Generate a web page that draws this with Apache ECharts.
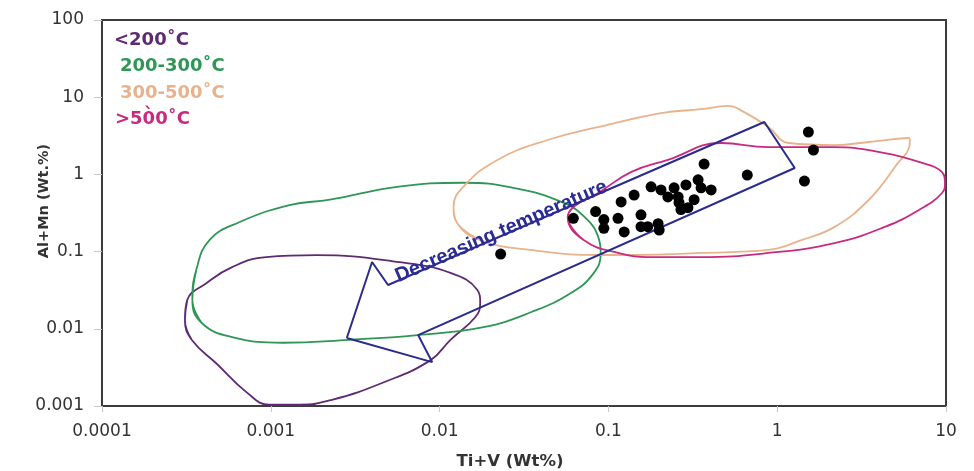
<!DOCTYPE html>
<html>
<head>
<meta charset="utf-8">
<script src="https://cdn.jsdelivr.net/npm/echarts@6/dist/echarts.min.js"></script>
<style>
  html, body { margin: 0; padding: 0; background: #fff; }
  #chart { width: 974px; height: 471px; }
</style>
</head>
<body>
<div id="chart"></div>
<script>
// tick labels
const xTickLabels = ['0.0001', '0.001', '0.01', '0.1', '1', '10'];
const yTickLabels = ['0.001', '0.01', '0.1', '1', '10', '100'];

// temperature fields (closed outlines), [Ti+V, Al+Mn]
const fieldLow = [[0.00031,0.013],[0.00032,0.0236],[0.000415,0.039],[0.00059,0.063],[0.00094,0.085],[0.00187,0.090],[0.0058,0.073],[0.0116,0.053],[0.0167,0.032],[0.0174,0.0216],[0.0163,0.0142],[0.0116,0.0072],[0.0088,0.0039],[0.0046,0.0020],[0.0023,0.0012],[0.00148,0.00104],[0.00098,0.00104],[0.00072,0.0015],[0.00048,0.0035],[0.00034,0.0072],[0.00031,0.013]];
const field200 = [[0.000343,0.0236],[0.000362,0.058],[0.000433,0.141],[0.00065,0.24],[0.00129,0.40],[0.00224,0.47],[0.0056,0.69],[0.0138,0.78],[0.0274,0.67],[0.054,0.43],[0.075,0.26],[0.087,0.155],[0.090,0.096],[0.082,0.053],[0.060,0.029],[0.035,0.0165],[0.0182,0.0105],[0.0074,0.0083],[0.0029,0.0072],[0.00118,0.0066],[0.00059,0.0078],[0.00039,0.0119],[0.000343,0.0236]];
const field300 = [[0.0127,0.234],[0.0121,0.38],[0.0138,0.69],[0.022,1.54],[0.0436,2.79],[0.0865,4.1],[0.205,6.2],[0.354,7.0],[0.513,7.7],[0.638,6.4],[0.886,4.1],[1.17,2.55],[2.19,2.4],[3.48,2.63],[6.03,2.96],[6.11,2.63],[4.98,1.25],[3.48,0.466],[2.19,0.209],[1.39,0.141],[0.886,0.105],[0.354,0.096],[0.142,0.0904],[0.0901,0.0904],[0.0346,0.105],[0.0174,0.141],[0.0127,0.234]];
const field500 = [[0.0574,0.281],[0.0622,0.38],[0.0865,0.57],[0.136,1.07],[0.225,1.54],[0.466,2.55],[0.886,2.26],[2.19,2.26],[4.34,1.89],[6.91,1.45],[9.47,1.07],[9.86,0.775],[9.47,0.574],[6.91,0.346],[4.34,0.209],[2.19,0.129],[0.886,0.096],[0.354,0.085],[0.179,0.085],[0.114,0.096],[0.0714,0.141],[0.0574,0.281]];

// arrow outline
const arrow = [[0.00282,0.0076],[0.00398,0.0733],[0.00495,0.0369],[0.839,4.77],[1.27,1.21],[0.00746,0.0083],[0.00904,0.0037],[0.00282,0.0076]];
const arrowLabel = [[0.0232,0.182]];

// samples
const samples = [[0.023,0.093],[0.062,0.27],[0.084,0.33],[0.094,0.26],[0.114,0.27],[0.094,0.20],[0.124,0.18],[0.119,0.44],[0.142,0.54],[0.156,0.30],[0.156,0.21],[0.171,0.21],[0.197,0.23],[0.200,0.19],[0.179,0.69],[0.205,0.63],[0.225,0.51],[0.245,0.67],[0.259,0.51],[0.288,0.73],[0.262,0.43],[0.340,0.85],[0.354,0.67],[0.406,0.63],[0.322,0.47],[0.296,0.37],[0.269,0.35],[0.369,1.36],[0.665,0.98],[1.53,3.54],[1.64,2.07],[1.45,0.82]];

const fieldNames = ['<200˚C', '200-300˚C', '300-500˚C', '>50̀0˚C'];
const fieldColors = ['#5e2a72', '#2f9656', '#e8b38c', '#c72a80'];

const chart = echarts.init(document.getElementById('chart'));

function labelFor(list) {
  return function (v) {
    const i = Math.round(Math.log10(v)) - Math.round(Math.log10(parseFloat(list[0])));
    return list[i] !== undefined ? list[i] : '';
  };
}

// wrap a closed loop by one point on each side so the smoothing has no corner at the seam
function wrapLoop(loop) {
  return [loop[loop.length - 2]].concat(loop, [loop[1]]);
}

function fieldSeries(name, data, color) {
  return {
    name: name,
    type: 'line',
    data: wrapLoop(data),
    smooth: 0.45,
    showSymbol: false,
    silent: true,
    lineStyle: { color: color, width: 1.8 },
    z: 2
  };
}

// legend texts, top-left inside the plot
const legendTexts = fieldNames.map(function (n, i) {
  const pos = [[114, 42], [120, 68], [120, 95], [115, 121]][i];
  return {
    type: 'text',
    left: pos[0],
    top: pos[1] - 11,
    style: {
      text: n,
      fill: fieldColors[i],
      font: 'bold 18px "DejaVu Sans", sans-serif'
    }
  };
});

chart.setOption({
  animation: false,
  grid: {
    left: 102, right: 28, top: 20, bottom: 65,
    outerBoundsMode: 'none',
    show: true, borderColor: '#3c3c3c', borderWidth: 2
  },
  xAxis: {
    type: 'log',
    logBase: 10,
    min: 0.0001,
    max: 10,
    name: 'Ti+V (Wt%)',
    nameLocation: 'middle',
    nameGap: 47,
    nameMoveOverlap: false,
    nameTextStyle: { fontSize: 16.5, fontWeight: 'bold', color: '#333', fontFamily: '"DejaVu Sans"', padding: [0, 28, 0, 0] },
    axisLine: { lineStyle: { color: '#3c3c3c', width: 2 } },
    axisTick: { show: true, length: 6, lineStyle: { color: '#c8c8c8' } },
    minorTick: { show: false },
    splitLine: { show: false },
    axisLabel: { color: '#333', fontSize: 17, fontFamily: '"DejaVu Sans"', margin: 17, formatter: labelFor(xTickLabels) }
  },
  yAxis: {
    type: 'log',
    logBase: 10,
    min: 0.001,
    max: 100,
    name: 'Al+Mn (Wt.%)',
    nameLocation: 'middle',
    nameGap: 50,
    nameMoveOverlap: false,
    nameTextStyle: { fontSize: 14.5, fontWeight: 'bold', color: '#333', fontFamily: '"DejaVu Sans"', padding: [0, 0, 0, 24] },
    axisLine: { lineStyle: { color: '#3c3c3c', width: 2 } },
    axisTick: { show: true, length: 8, lineStyle: { color: '#c8c8c8' } },
    splitLine: { show: false },
    axisLabel: { color: '#333', fontSize: 17, fontFamily: '"DejaVu Sans"', margin: 18, formatter: labelFor(yTickLabels) }
  },
  graphic: legendTexts,
  series: [
    fieldSeries(fieldNames[0], fieldLow, fieldColors[0]),
    fieldSeries(fieldNames[1], field200, fieldColors[1]),
    fieldSeries(fieldNames[2], field300, fieldColors[2]),
    fieldSeries(fieldNames[3], field500, fieldColors[3]),
    {
      name: 'arrow',
      type: 'line',
      data: arrow,
      showSymbol: false,
      silent: true,
      lineStyle: { color: '#2b2b8e', width: 2 },
      z: 3
    },
    {
      name: 'arrowText',
      type: 'scatter',
      data: arrowLabel,
      symbolSize: 0,
      silent: true,
      itemStyle: { opacity: 1 },
      label: {
        show: true,
        position: 'inside',
        rotate: 23.5,
        formatter: 'Decreasing temperature',
        color: '#2b2b96',
        fontSize: 20,
        fontWeight: 'bold',
        fontFamily: 'Arial'
      },
      z: 4
    },
    {
      name: 'samples',
      type: 'scatter',
      data: samples,
      symbolSize: 11,
      itemStyle: { color: '#000', opacity: 1 },
      z: 5
    }
  ]
});
</script>
</body>
</html>
